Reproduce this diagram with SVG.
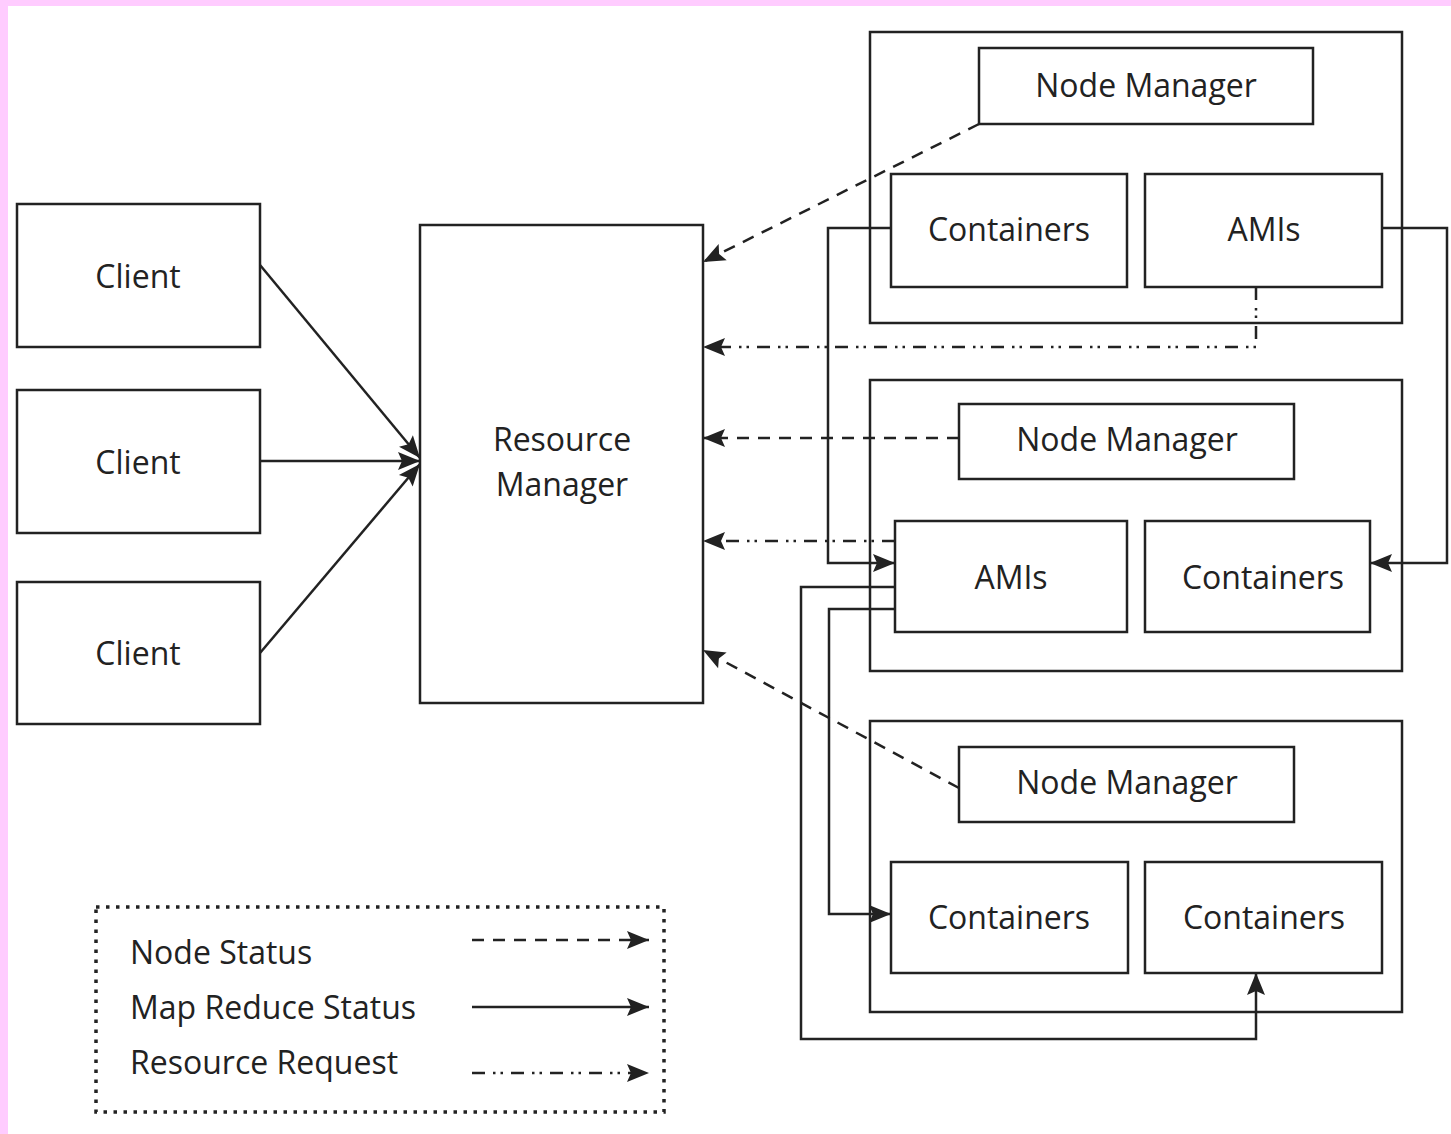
<svg xmlns="http://www.w3.org/2000/svg" width="1451" height="1134" viewBox="0 0 1451 1134">
  <defs>
    <style>
      .box { fill: #fff; stroke: #222; stroke-width: 2.5; }
      .frame { fill: none; stroke: #222; stroke-width: 2.5; }
      .lbl { font-family: "Open Sans", "Noto Sans", sans-serif; font-size: 32px; fill: #222; text-anchor: middle; }
      .leg { font-family: "Open Sans", "Noto Sans", sans-serif; font-size: 32px; fill: #222; }
      .solid { fill: none; stroke: #222; stroke-width: 2.5; }
      .status { fill: none; stroke: #222; stroke-width: 2.5; stroke-dasharray: 12 9; }
      .request { fill: none; stroke: #222; stroke-width: 2.5; stroke-dasharray: 13 8 2.5 5 2.5 8; }
    </style>
    <marker id="arrow" markerUnits="userSpaceOnUse" markerWidth="24" markerHeight="20" refX="22" refY="9" orient="auto" overflow="visible">
      <path d="M0,0 L22,9 L0,18 L4,9 Z" fill="#222"/>
    </marker>
  </defs>

  <!-- page -->
  <rect x="0" y="0" width="1451" height="1134" fill="#ffccff"/>
  <rect x="8" y="6" width="1443" height="1128" fill="#fff"/>

  <!-- clients -->
  <g id="client-1">
    <rect class="box" x="17" y="204" width="243" height="143"/>
    <text class="lbl" x="138" y="288">Client</text>
  </g>
  <g id="client-2">
    <rect class="box" x="17" y="390" width="243" height="143"/>
    <text class="lbl" x="138" y="474">Client</text>
  </g>
  <g id="client-3">
    <rect class="box" x="17" y="582" width="243" height="142"/>
    <text class="lbl" x="138" y="665">Client</text>
  </g>

  <!-- resource manager -->
  <g id="resource-manager">
    <rect class="box" x="420" y="225" width="283" height="478"/>
    <text class="lbl" x="562" y="451">Resource</text>
    <text class="lbl" x="562" y="496">Manager</text>
  </g>

  <!-- node 1 -->
  <g id="node-1">
    <rect class="frame" x="870" y="32" width="532" height="291"/>
    <g id="node-manager-1">
      <rect class="box" x="979" y="48" width="334" height="76"/>
      <text class="lbl" x="1146" y="97">Node Manager</text>
    </g>
    <g id="containers-1">
      <rect class="box" x="891" y="174" width="236" height="113"/>
      <text class="lbl" x="1009" y="241">Containers</text>
    </g>
    <g id="amis-1">
      <rect class="box" x="1145" y="174" width="237" height="113"/>
      <text class="lbl" x="1264" y="241">AMIs</text>
    </g>
  </g>

  <!-- node 2 -->
  <g id="node-2">
    <rect class="frame" x="870" y="380" width="532" height="291"/>
    <g id="node-manager-2">
      <rect class="box" x="959" y="404" width="335" height="75"/>
      <text class="lbl" x="1127" y="451">Node Manager</text>
    </g>
    <g id="amis-2">
      <rect class="box" x="895" y="521" width="232" height="111"/>
      <text class="lbl" x="1011" y="589">AMIs</text>
    </g>
    <g id="containers-2">
      <rect class="box" x="1145" y="521" width="225" height="111"/>
      <text class="lbl" x="1263" y="589">Containers</text>
    </g>
  </g>

  <!-- node 3 -->
  <g id="node-3">
    <rect class="frame" x="870" y="721" width="532" height="291"/>
    <g id="node-manager-3">
      <rect class="box" x="959" y="747" width="335" height="75"/>
      <text class="lbl" x="1127" y="794">Node Manager</text>
    </g>
    <g id="containers-3a">
      <rect class="box" x="891" y="862" width="237" height="111"/>
      <text class="lbl" x="1009" y="929">Containers</text>
    </g>
    <g id="containers-3b">
      <rect class="box" x="1145" y="862" width="237" height="111"/>
      <text class="lbl" x="1264" y="929">Containers</text>
    </g>
  </g>

  <!-- connectors -->
  <g id="connectors">
    <!-- map reduce status: clients to resource manager -->
    <line class="solid" x1="260" y1="265" x2="420" y2="458" marker-end="url(#arrow)"/>
    <line class="solid" x1="260" y1="461" x2="420" y2="461" marker-end="url(#arrow)"/>
    <line class="solid" x1="260" y1="653" x2="420" y2="464" marker-end="url(#arrow)"/>

    <!-- node status: node managers to resource manager -->
    <line class="status" x1="979" y1="124" x2="703" y2="262" marker-end="url(#arrow)"/>
    <line class="status" x1="959" y1="438" x2="703" y2="438" marker-end="url(#arrow)"/>
    <line class="status" x1="959" y1="788" x2="703" y2="650" marker-end="url(#arrow)"/>

    <!-- resource requests: AMIs to resource manager -->
    <polyline class="request" points="1256,287 1256,347 703,347" marker-end="url(#arrow)"/>
    <line class="request" x1="895" y1="541" x2="703" y2="541" marker-end="url(#arrow)"/>

    <!-- map reduce status between nodes -->
    <polyline class="solid" points="891,228 828,228 828,563 895,563" marker-end="url(#arrow)"/>
    <polyline class="solid" points="1382,228 1447,228 1447,563 1370,563" marker-end="url(#arrow)"/>
    <polyline class="solid" points="895,587 801,587 801,1039 1256,1039 1256,973" marker-end="url(#arrow)"/>
    <polyline class="solid" points="895,609 829,609 829,914 891,914" marker-end="url(#arrow)"/>
  </g>

  <!-- legend -->
  <g id="legend">
    <rect x="96" y="907" width="568" height="205" fill="none" stroke="#222" stroke-width="3.5" stroke-dasharray="3.5 6.5"/>
    <text class="leg" x="130" y="964">Node Status</text>
    <text class="leg" x="130" y="1019">Map Reduce Status</text>
    <text class="leg" x="130" y="1074">Resource Request</text>
    <line class="status" x1="472" y1="940" x2="649" y2="940" marker-end="url(#arrow)"/>
    <line class="solid" x1="472" y1="1007" x2="649" y2="1007" marker-end="url(#arrow)"/>
    <line class="request" x1="472" y1="1073" x2="649" y2="1073" marker-end="url(#arrow)"/>
  </g>
</svg>
